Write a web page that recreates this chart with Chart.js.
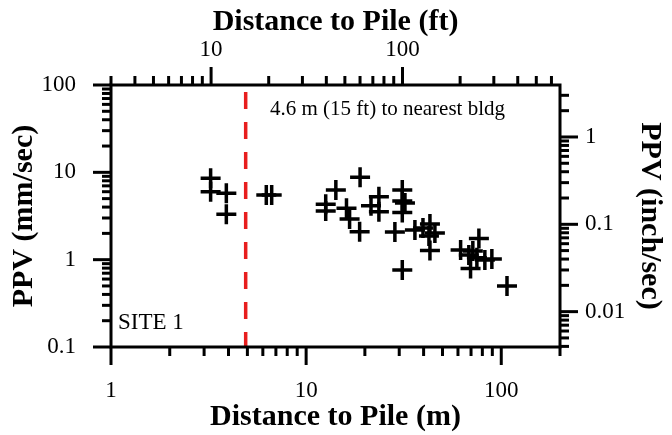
<!DOCTYPE html>
<html lang="en">
<head>
  <meta charset="UTF-8" />
  <title>PPV vs Distance to Pile - Site 1</title>
  <script src="https://cdn.jsdelivr.net/npm/chart.js"></script>
  <style>
    body {
      margin: 0;
      background: #fff;
    }
  </style>
</head>
<body>

<canvas id="ppvChart" width="672" height="435"></canvas>

<script>
  // distance to pile (m) and peak particle velocity (mm/sec)
  const distM = [3.24, 3.24, 3.90, 3.90, 6.25, 6.66, 18.9, 14.2, 12.6, 12.6,
                 16.1, 16.7, 18.8, 23.6, 21.5, 23.6, 31.1, 31.1, 32.1, 31.1,
                 28.5, 36.1, 39.7, 43.1, 42.6, 45.7, 43.1, 31.1, 76.8, 61.9,
                 68.2, 75.0, 82.4, 89.5, 69.6, 71.5, 107];
  const ppvMm = [8.55, 6.00, 5.75, 3.31, 5.50, 5.50, 8.77, 6.28, 4.31, 3.61,
                 3.88, 2.92, 2.09, 5.26, 4.15, 3.54, 6.28, 4.70, 4.45, 3.47,
                 2.07, 2.19, 2.31, 2.56, 1.87, 2.02, 1.27, 0.76, 1.75, 1.29,
                 1.13, 1.05, 0.99, 1.02, 0.79, 1.26, 0.50];

  // axis ranges and labelled ticks
  const xRange = [1, 200];      // m
  const ftRange = [3, 665];     // top axis, ft
  const yRange = [0.1, 100];    // mm/sec
  const MM_PER_INCH = 25.4;
  const xLabels = [1, 10, 100];
  const ftLabels = [10, 100];
  const yLabels = [0.1, 1, 10, 100];
  const inLabels = [0.01, 0.1, 1];

  const bldgDist = 4.9;         // position of the dashed line (m)
  const bldgNote = "4.6 m (15 ft) to nearest bldg";
  const siteName = "SITE 1";

  const SERIF = "'Liberation Serif', 'Times New Roman', serif";

  function labelIf(list) {
    return function (value) {
      const hit = list.find(v => Math.abs(Math.log10(v) - Math.log10(value)) < 1e-6);
      return hit === undefined ? "" : String(hit);
    };
  }

  // log tick marks drawn outward from the frame, long at decades
  function drawLogTicks(ctx, scale, edge, dir) {
    const lo = Math.floor(Math.log10(scale.min));
    const hi = Math.ceil(Math.log10(scale.max));
    for (let e = lo; e <= hi; e++) {
      for (let d = 1; d <= 9; d++) {
        const v = d * Math.pow(10, e);
        if (v < scale.min * 0.9999 || v > scale.max * 1.0001) continue;
        const p = scale.getPixelForValue(v);
        const len = d === 1 ? 18 : 9;
        ctx.beginPath();
        if (scale.isHorizontal()) {
          ctx.moveTo(p, edge);
          ctx.lineTo(p, edge + dir * len);
        } else {
          ctx.moveTo(edge, p);
          ctx.lineTo(edge + dir * len, p);
        }
        ctx.stroke();
      }
    }
  }

  const frameTicks = {
    id: "frameTicks",
    afterDatasetsDraw(chart) {
      const { ctx, chartArea: a } = chart;
      ctx.save();
      ctx.fillStyle = "#000";
      ctx.textBaseline = "middle";
      ctx.textAlign = "left";
      ctx.font = "21px " + SERIF;
      ctx.fillText(bldgNote, a.left + 159, a.top + 24);
      ctx.font = "23px " + SERIF;
      ctx.fillText(siteName, a.left + 7, a.bottom - 24);
      ctx.restore();
    },
    afterDraw(chart) {
      const { ctx, chartArea: a, scales } = chart;
      ctx.save();
      ctx.strokeStyle = "#000";
      ctx.lineWidth = 3;
      ctx.strokeRect(a.left, a.top, a.right - a.left, a.bottom - a.top);
      drawLogTicks(ctx, scales.x, a.bottom, 1);
      drawLogTicks(ctx, scales.x2, a.top, -1);
      drawLogTicks(ctx, scales.y, a.left, -1);
      drawLogTicks(ctx, scales.y2, a.right, 1);
      ctx.restore();
    }
  };

  function axisTicks(list, pad) {
    return {
      autoSkip: false,
      maxRotation: 0,
      minRotation: 0,
      padding: pad,
      color: "#000",
      font: { family: SERIF, size: 23 },
      callback: labelIf(list)
    };
  }

  function axisTitle(text, padding) {
    return {
      display: true,
      text: text,
      color: "#000",
      font: { family: SERIF, size: 30, weight: "bold" },
      padding: padding
    };
  }

  const noGrid = { display: false, drawTicks: false };

  new Chart(document.getElementById("ppvChart").getContext("2d"), {
    type: "scatter",
    data: {
      datasets: [
        {
          label: "PPV",
          data: distM.map((d, i) => ({ x: d, y: ppvMm[i] })),
          pointStyle: "cross",
          pointRadius: 10,
          pointBorderWidth: 3.5,
          borderColor: "#000",
          backgroundColor: "#000"
        },
        {
          label: "nearest bldg",
          data: [{ x: bldgDist, y: yRange[1] }, { x: bldgDist, y: yRange[0] }],
          showLine: true,
          pointRadius: 0,
          borderColor: "rgb(232, 30, 30)",
          borderWidth: 3.5,
          borderDash: [17, 13],
          borderDashOffset: 23
        }
      ]
    },
    options: {
      responsive: false,
      animation: false,
      devicePixelRatio: 1,
      layout: { padding: 0 },
      plugins: {
        legend: { display: false },
        tooltip: { enabled: false }
      },
      scales: {
        x: {
          type: "logarithmic",
          position: "bottom",
          min: xRange[0],
          max: xRange[1],
          grid: noGrid,
          border: { display: false },
          ticks: axisTicks(xLabels, 30),
          title: axisTitle("Distance to Pile (m)", { top: 0, bottom: 0 }),
          afterFit(s) { s.height = 88; }
        },
        x2: {
          type: "logarithmic",
          position: "top",
          min: ftRange[0],
          max: ftRange[1],
          grid: noGrid,
          border: { display: false },
          ticks: axisTicks(ftLabels, 21),
          title: axisTitle("Distance to Pile (ft)", { top: 4, bottom: 0 }),
          afterFit(s) { s.height = 85; }
        },
        y: {
          type: "logarithmic",
          position: "left",
          min: yRange[0],
          max: yRange[1],
          grid: noGrid,
          border: { display: false },
          ticks: axisTicks(yLabels, 35),
          title: axisTitle("PPV (mm/sec)", { top: 6, bottom: 0 }),
          afterFit(s) { s.width = 111; }
        },
        y2: {
          type: "logarithmic",
          position: "right",
          min: yRange[0] / MM_PER_INCH,
          max: yRange[1] / MM_PER_INCH,
          grid: noGrid,
          border: { display: false },
          ticks: axisTicks(inLabels, 25),
          title: axisTitle("PPV (inch/sec)", { top: 4, bottom: 0 }),
          afterFit(s) { s.width = 112; }
        }
      }
    },
    plugins: [frameTicks]
  });
</script>

</body>
</html>
